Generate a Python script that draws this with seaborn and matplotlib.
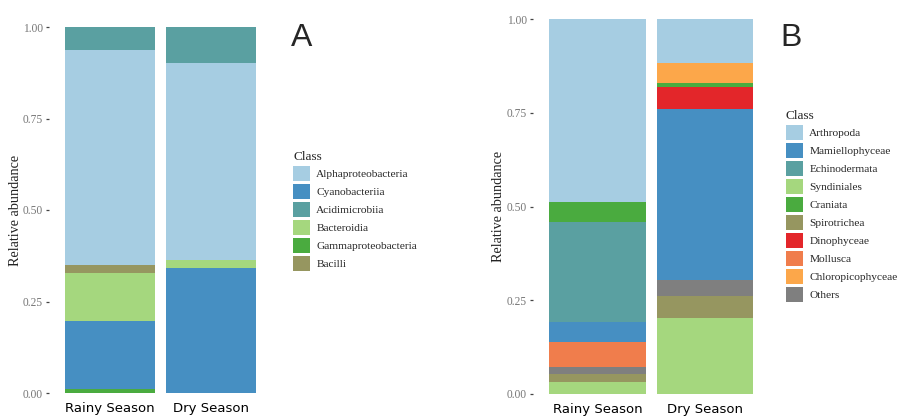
import matplotlib
matplotlib.use("Agg")
import matplotlib.pyplot as plt
import matplotlib.patches as mpatches
import numpy as np
import pandas as pd
import seaborn as sns

seasons = ["Rainy Season", "Dry Season"]

# panel A (legend order)
classes_a = ["Alphaproteobacteria", "Cyanobacteriia", "Acidimicrobiia",
             "Bacteroidia", "Gammaproteobacteria", "Bacilli"]
rainy_a = [0.586, 0.187, 0.064, 0.130, 0.010, 0.023]
dry_a = [0.540, 0.342, 0.097, 0.021, 0.000, 0.000]

# panel B (legend order)
classes_b = ["Arthropoda", "Mamiellophyceae", "Echinodermata", "Syndiniales",
             "Craniata", "Spirotrichea", "Dinophyceae", "Mollusca",
             "Chloropicophyceae", "Others"]
rainy_b = [0.487, 0.053, 0.267, 0.031, 0.054, 0.022, 0.000, 0.066, 0.000, 0.020]
dry_b = [0.117, 0.456, 0.000, 0.202, 0.011, 0.059, 0.059, 0.000, 0.053, 0.043]

colours = ["#a6cde2", "#468fc2", "#5aa0a1", "#a5d77e", "#4aab3f",
           "#969660", "#e3262a", "#f07d4c", "#fca74a", "#7f7f7f"]

sns.set_theme(style="white")
plt.rcParams["font.family"] = ["DejaVu Sans"]

W, H = 898, 417
fig = plt.figure(figsize=(W / 100, H / 100), dpi=100)


def px_axes(x0, x1, y0, y1):
    return fig.add_axes([x0 / W, 1 - y1 / H, (x1 - x0) / W, (y1 - y0) / H])


def stacked(ax, classes, rainy, dry):
    df = pd.DataFrame({"Class": classes * 2,
                       "season": [seasons[0]] * len(classes) + [seasons[1]] * len(classes),
                       "value": rainy + dry})
    col = dict(zip(classes, colours))
    # ggplot-style stack: alphabetical, first level on top
    order = sorted(classes)
    for i, c in enumerate(order):
        below = order[i:]
        cum = df[df["Class"].isin(below)].groupby("season", sort=False)["value"].sum()
        sub = pd.DataFrame({"season": seasons, "cum": [cum[s] for s in seasons]})
        sns.barplot(data=sub, x="season", y="cum", order=seasons, color=col[c],
                    width=0.9, saturation=1, linewidth=0, ax=ax)
    ax.set_xlim(-0.6, 1.6)
    ax.set_ylim(0, 1)
    ax.set_yticks([0, 0.25, 0.5, 0.75, 1.0])
    ax.set_yticklabels(["0.00", "0.25", "0.50", "0.75", "1.00"],
                       family="Liberation Serif", fontsize=8.3, color="#777777")
    ax.tick_params(axis="y", length=2.5, width=0.9, color="#444444", pad=2, left=True)
    ax.tick_params(axis="x", length=0, pad=6.5, labelsize=9.5, labelcolor="black")
    ax.set_xlabel("")
    ax.set_ylabel("Relative abundance", family="Liberation Serif", fontsize=10.2,
                  color="#222222", labelpad=1)
    for s in ax.spines.values():
        s.set_visible(False)
    ax.set_facecolor("white")
    handles = [mpatches.Patch(facecolor=col[c], edgecolor="none", label=c) for c in classes]
    return handles


ax_a = px_axes(49.4, 271.6, 27, 393)
h_a = stacked(ax_a, classes_a, rainy_a, dry_a)
ax_b = px_axes(533.3, 769.4, 19, 394)
h_b = stacked(ax_b, classes_b, rainy_b, dry_b)

for ax, handles, (lx, ly) in [(ax_a, h_a, (293, 151)), (ax_b, h_b, (786, 110))]:
    leg = ax.legend(handles=handles, title="Class", loc="upper left",
                    bbox_to_anchor=(lx / W, 1 - ly / H), bbox_transform=fig.transFigure,
                    frameon=False, borderpad=0, borderaxespad=0,
                    prop={"family": "Liberation Serif", "size": 8.2},
                    handlelength=1.49, handleheight=1.65, handletextpad=0.55,
                    labelspacing=0.26)
    leg.get_title().set_fontfamily("Liberation Serif")
    leg.get_title().set_fontsize(9.5)
    leg._legend_box.align = "left"

fig.text(302 / W, 1 - 38 / H, "A", fontsize=23, family="Liberation Sans",
         ha="center", va="center")
fig.text(791 / W, 1 - 38 / H, "B", fontsize=23, family="Liberation Sans",
         ha="center", va="center")

fig.savefig("out.png", dpi=100, facecolor="white")
